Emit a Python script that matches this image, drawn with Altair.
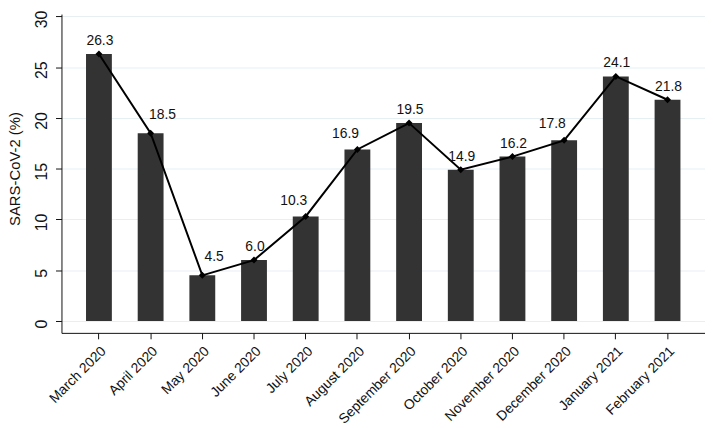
import altair as alt
import pandas as pd

months = ["March 2020", "April 2020", "May 2020", "June 2020", "July 2020", "August 2020",
          "September 2020", "October 2020", "November 2020", "December 2020",
          "January 2021", "February 2021"]
values = [26.3, 18.5, 4.5, 6.0, 10.3, 16.9, 19.5, 14.9, 16.2, 17.8, 24.1, 21.8]
# marker-label clock position (as in the original figure)
label_pos = ["12", "1", "1", "12", "11", "11", "12", "12", "12", "11", "12", "12"]

df = pd.DataFrame({"month": months, "value": values, "pos": label_pos})
df["label"] = [f"{v:.1f}" for v in values]

FONT = "Liberation Sans"

x = alt.X("month:N", sort=months, title=None,
          scale=alt.Scale(paddingInner=0.5, paddingOuter=0.475),
          axis=alt.Axis(labelAngle=-45, labelAlign="right", labelBaseline="top",
                        labelFontSize=14, labelColor="#111", labelFont=FONT,
                        tickSize=6, tickColor="#111", domainColor="#111",
                        labelPadding=5, domainWidth=1))
y = alt.Y("value:Q", title="SARS-CoV-2 (%)",
          scale=alt.Scale(domain=[-1.17, 30.24], nice=False, zero=False),
          axis=alt.Axis(values=[0, 5, 10, 15, 20, 25, 30], labelAngle=-90,
                        labelAlign="center", labelBaseline="bottom", labelOffset=2.5,
                        labelFontSize=16, labelColor="#111", labelFont=FONT,
                        tickSize=6, tickColor="#111", domainColor="#111",
                        labelPadding=6, titleFontSize=15, titleFont=FONT,
                        titleFontWeight="normal", titleColor="#111", titlePadding=11,
                        titleY=156,
                        grid=True, gridColor="#e6eff3", gridWidth=1))

xs = alt.X("month:N", sort=months)
base = alt.Chart(df)
bars = base.mark_bar(color="#333333").encode(x=x, y=y)
line = base.mark_line(color="black", strokeWidth=2).encode(x=xs, y="value:Q")
pts = base.mark_point(shape="diamond", filled=True, color="black", size=50, opacity=1).encode(
    x=xs, y="value:Q")

def labels(pos, dx, dy):
    return base.transform_filter(alt.datum.pos == pos).mark_text(
        baseline="bottom", dx=dx, dy=dy, fontSize=14, font=FONT, color="#111"
    ).encode(x=xs, y="value:Q", text="label:N")

txt12 = labels("12", 1, -6)
txt1 = labels("1", 12, -11)
txt11 = labels("11", -12, -9)

chart = (bars + line + pts + txt12 + txt1 + txt11).properties(
    width=650, height=322,
    autosize=alt.AutoSizeParams(type="none"),
    padding={"left": 54, "top": 4, "right": 0, "bottom": 100},
).configure_view(stroke=None).configure_axisX(grid=False)

chart.save("out.html", embed_options={"renderer": "svg", "actions": False})
